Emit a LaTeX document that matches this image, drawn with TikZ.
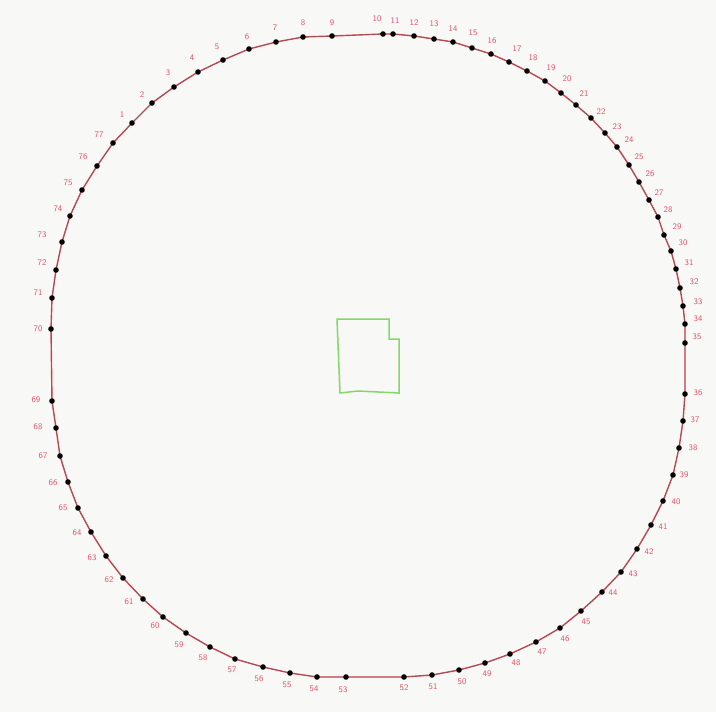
\documentclass[tikz,border=0pt]{standalone}
\usepackage{xcolor,tikz}
\definecolor{rimred}{HTML}{D8404F}
\definecolor{numred}{HTML}{E2556A}
\definecolor{roomgreen}{HTML}{86D866}
\definecolor{paper}{HTML}{F8F8F6}
\tikzset{lbl/.style={text=numred,font=\fontsize{8.5}{9}\sffamily,inner sep=0pt}}

\begin{document}
\begin{tikzpicture}[x=1pt,y=-1pt]
 \fill[paper] (0,0) rectangle (716,712);
 \useasboundingbox (0,0) rectangle (716,712);
 \foreach \n/\x/\y/\lx/\ly in {1/132/123/122/115,2/152/103/142/95,3/174/87/168/73,
   4/198/72/192/58,5/223/60/217/47,6/249/49/247/37,7/276/42/275/28,8/303/37/303/23,
   9/332/36/332/23,10/383/34/377/19,11/393/34/395/21,12/414/36/414/23,13/434/39/434/24,
   14/453/42/453/29,15/472/48/473/33,16/491/54/492/41,17/509/62/517/49,18/527/71/533/58,
   19/545/81/551/68,20/561/93/567/79,21/576/105/584/94,22/591/118/601/112,
   23/605/133/617/127,24/617/147/629/140,25/629/165/639/157,26/639/182/650/174,
   27/649/200/659/193,28/658/217/668/210,29/664/235/677/227,30/671/251/683/243,
   31/676/269/689/263,32/680/288/694/282,33/683/306/698/302,34/685/324/698/319,
   35/685/343/697/337,36/685/394/698/393,37/683/421/695/420,38/679/448/693/448,
   39/673/475/684/475,40/663/501/676/502,41/651/525/663/527,42/637/549/649/552,
   43/621/572/633/574,44/602/592/613/593,45/581/611/586/622,46/560/628/565/639,
   47/536/642/542/652,48/510/654/516/663,49/485/663/487/674,50/459/670/462/682,
   51/432/675/433/687,52/404/677/404/688,53/346/677/343/690,54/317/677/314/689,
   55/290/673/287/685,56/263/667/259/679,57/235/659/232/670,58/210/647/203/658,
   59/186/633/179/645,60/163/617/155/626,61/143/599/129/602,62/123/578/109/580,
   63/106/556/92/558,64/91/532/77/533,65/78/508/63/508,66/68/482/53/483,
   67/60/456/43/456,68/56/428/38/427,69/52/401/36/400,70/51/329/38/329,
   71/52/298/38/293,72/56/270/42/263,73/62/242/42/235,74/70/216/58/209,
   75/82/190/68/183,76/97/166/83/157,77/113/143/99/135}{
   \coordinate (p\n) at (\x,\y);
   \node[lbl] (t\n) at (\lx,\ly) {\n};
 }
 \draw[rimred,line width=1.4pt,line join=round] (p1) \foreach \i in {2,...,77}{-- (p\i)} -- cycle;
 \draw[black!60,line width=.3pt,line join=round] (p1) \foreach \i in {2,...,77}{-- (p\i)} -- cycle;
 \foreach \i in {1,...,77} \fill (p\i) circle (2.8);
 \draw[roomgreen,line width=1.5pt] (337,319) -- (389,319) -- (389,339) -- (399,339)
   -- (399,393) -- (358,391) -- (340,393) -- cycle;
\end{tikzpicture}
\end{document}
